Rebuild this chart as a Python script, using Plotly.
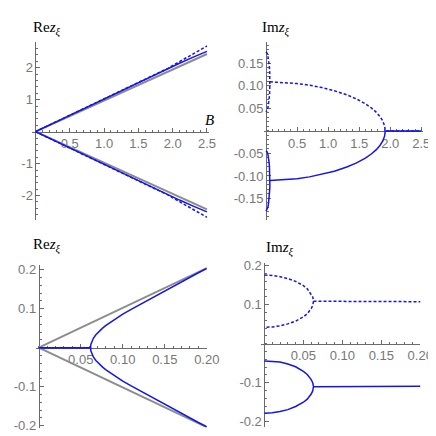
import plotly.graph_objects as go

W = H = 436

BLUE = "#1414f0"
GRAY = "#8c8c8c"
AXIS = "#6a6a6a"
TICKFONT = dict(family="Liberation Sans, Arial, sans-serif", size=13, color="#777777")
SERIF = "Liberation Serif, DejaVu Serif, serif"
DASH = "3px,2px"

# --- Re z_xi over B in [0, 2.5] (top left)
re1_b = [0, 0.5, 1.0, 1.5, 1.93, 2.1, 2.3, 2.5]
re1_solid = [0, 0.51, 1.02, 1.53, 1.98, 2.14, 2.33, 2.51]
re1_dashed = [0, 0.51, 1.02, 1.53, 1.98, 2.19, 2.44, 2.68]
re1_gray_b = [0, 2.5]
re1_gray = [0, 2.43]

# --- Im z_xi (top right and bottom right share the same branches)
arc_b = [0, 0.01, 0.02, 0.03, 0.04, 0.05, 0.055, 0.06, 0.062, 0.063]
arc_dash_hi = [0.176, 0.175, 0.172, 0.167, 0.160, 0.149, 0.141, 0.128, 0.120, 0.109]
arc_dash_lo = [0.042, 0.043, 0.046, 0.051, 0.058, 0.069, 0.077, 0.090, 0.098, 0.109]
arc_solid_hi = [-0.044, -0.045, -0.047, -0.052, -0.059, -0.071, -0.079, -0.092, -0.100, -0.110]
arc_solid_lo = [-0.178, -0.177, -0.174, -0.169, -0.161, -0.150, -0.142, -0.129, -0.121, -0.110]
im_b = [0.063, 0.3, 0.5, 0.7, 0.9, 1.1, 1.3, 1.45, 1.6, 1.7, 1.78, 1.84, 1.88, 1.91, 1.92, 2.5]
im_dashed = [0.109, 0.1077, 0.1053, 0.1015, 0.0963, 0.0894, 0.0802, 0.0715, 0.0603, 0.0507,
             0.0409, 0.0312, 0.0221, 0.0111, 0, 0]
im_solid = [-0.110, -0.1085, -0.1060, -0.1020, -0.0965, -0.0895, -0.0802, -0.0715, -0.0603,
            -0.0507, -0.0409, -0.0312, -0.0221, -0.0111, 0, 0]

# --- Re z_xi over B in [0, 0.2] (bottom left)
re3_b = [0, 0.0616, 0.062, 0.063, 0.065, 0.068, 0.072, 0.076, 0.08, 0.09, 0.10, 0.11,
         0.12, 0.13, 0.14, 0.15, 0.16, 0.17, 0.18, 0.19, 0.20]
re3 = [0, 0, 0.008, 0.015, 0.024, 0.033, 0.042, 0.050, 0.057, 0.072, 0.086, 0.098,
       0.110, 0.122, 0.134, 0.146, 0.158, 0.169, 0.181, 0.192, 0.203]
re3_gray_b = [0, 0.2]
re3_gray = [0, 0.204]

# tick values
big_xt = [0.5, 1.0, 1.5, 2.0, 2.5]
re1_yt = [-2, -1, 1, 2]
im2_yt = [-0.15, -0.10, -0.05, 0.05, 0.10, 0.15]
small_xt = [0.05, 0.10, 0.15, 0.20]
small_yt = [-0.2, -0.1, 0.1, 0.2]


def neg(vals):
    return [-v for v in vals]


def place(fig, n, xpx, ypx, xr, yr, xt, xfmt, yt, yfmt, xminor, yminor):
    """Puts subplot n in a pixel box with both axes crossing at the origin."""
    sx = (xpx[1] - xpx[0]) / (xr[1] - xr[0])
    sy = (ypx[1] - ypx[0]) / (yr[1] - yr[0])
    x0 = xpx[0] - xr[0] * sx
    y0 = ypx[1] + yr[0] * sy
    sfx = "" if n == 1 else str(n)
    common = dict(showgrid=False, zeroline=False, showline=True, linecolor=AXIS, linewidth=1,
                  ticks="inside", ticklen=4, tickcolor=AXIS, tickwidth=1, tickfont=TICKFONT,
                  layer="below traces", anchor="free", fixedrange=True)
    fig.layout["xaxis" + sfx] = dict(
        domain=[xpx[0] / W, xpx[1] / W], range=xr, position=1 - y0 / H,
        tickvals=xt, ticktext=[xfmt.format(v) for v in xt],
        minor=dict(ticks="inside", ticklen=2, tickcolor=AXIS, tick0=0, dtick=xminor),
        **common)
    fig.layout["yaxis" + sfx] = dict(
        domain=[1 - ypx[1] / H, 1 - ypx[0] / H], range=yr, position=x0 / W,
        tickvals=yt, ticktext=[yfmt.format(v) for v in yt],
        minor=dict(ticks="inside", ticklen=2, tickcolor=AXIS, tick0=0, dtick=yminor),
        **common)


def line(x, y, n, color, width, dash="solid"):
    sfx = "" if n == 1 else str(n)
    return go.Scatter(x=x, y=y, mode="lines", xaxis="x" + sfx, yaxis="y" + sfx,
                      line=dict(color=color, width=width, dash=dash), hoverinfo="skip")


fig = go.Figure()

# top left
fig.add_trace(line(re1_gray_b, re1_gray, 1, GRAY, 2))
fig.add_trace(line(re1_gray_b, neg(re1_gray), 1, GRAY, 2))
fig.add_trace(line(re1_b, re1_dashed, 1, BLUE, 1.5, DASH))
fig.add_trace(line(re1_b, neg(re1_dashed), 1, BLUE, 1.5, DASH))
fig.add_trace(line(re1_b, re1_solid, 1, BLUE, 1.5))
fig.add_trace(line(re1_b, neg(re1_solid), 1, BLUE, 1.5))

# top right and bottom right
for n in (2, 4):
    fig.add_trace(line(arc_b + arc_b[::-1], arc_dash_hi + arc_dash_lo[::-1], n, BLUE, 1.5, DASH))
    fig.add_trace(line(im_b, im_dashed, n, BLUE, 1.5, DASH))
    fig.add_trace(line(arc_b + arc_b[::-1], arc_solid_hi + arc_solid_lo[::-1], n, BLUE, 1.5))
    fig.add_trace(line(im_b, im_solid, n, BLUE, 1.5))

# bottom left
fig.add_trace(line(re3_gray_b, re3_gray, 3, GRAY, 2))
fig.add_trace(line(re3_gray_b, neg(re3_gray), 3, GRAY, 2))
fig.add_trace(line(re3_b, re3, 3, BLUE, 1.5))
fig.add_trace(line(re3_b, neg(re3), 3, BLUE, 1.5))

place(fig, 1, (24.8, 207.2), (29.9, 211.9), [-0.05, 2.53], [-2.75, 2.8],
      big_xt, "{:.1f}", re1_yt, "{:g}", 0.1, 0.2)
place(fig, 2, (263.4, 427.9), (30.0, 212.0), [-0.04, 2.53], [-0.197, 0.197],
      big_xt, "{:.1f}", im2_yt, "{:.2f}", 0.1, 0.01)
place(fig, 3, (29.1, 204.9), (258.1, 425.3), [-0.003, 0.2], [-0.205, 0.213],
      small_xt, "{:.2f}", small_yt, "{:.1f}", 0.01, 0.02)
place(fig, 4, (261.1, 424.9), (256.9, 424.9), [-0.004, 0.2], [-0.214, 0.206],
      small_xt, "{:.2f}", small_yt, "{:.1f}", 0.01, 0.02)

re_label = "Re<i>z</i><sub><i>ξ</i></sub>"
im_label = "Im<i>z</i><sub><i>ξ</i></sub>"
for text, px, py in ((re_label, 24, 16), (im_label, 260, 16),
                     (re_label, 24, 239), (im_label, 264, 242)):
    fig.add_annotation(text=text, x=px / W, y=1 - py / H, xref="paper", yref="paper",
                       xanchor="left", yanchor="middle", showarrow=False,
                       font=dict(family=SERIF, size=15, color="black"))
fig.add_annotation(text="<i>B</i>", x=208 / W, y=1 - 110 / H, xref="paper", yref="paper",
                   xanchor="center", yanchor="middle", showarrow=False,
                   font=dict(family=SERIF, size=15, color="black"))

fig.update_layout(width=W, height=H, margin=dict(l=0, r=0, t=0, b=0),
                  paper_bgcolor="white", plot_bgcolor="white", showlegend=False)

fig.write_html("out.html")
